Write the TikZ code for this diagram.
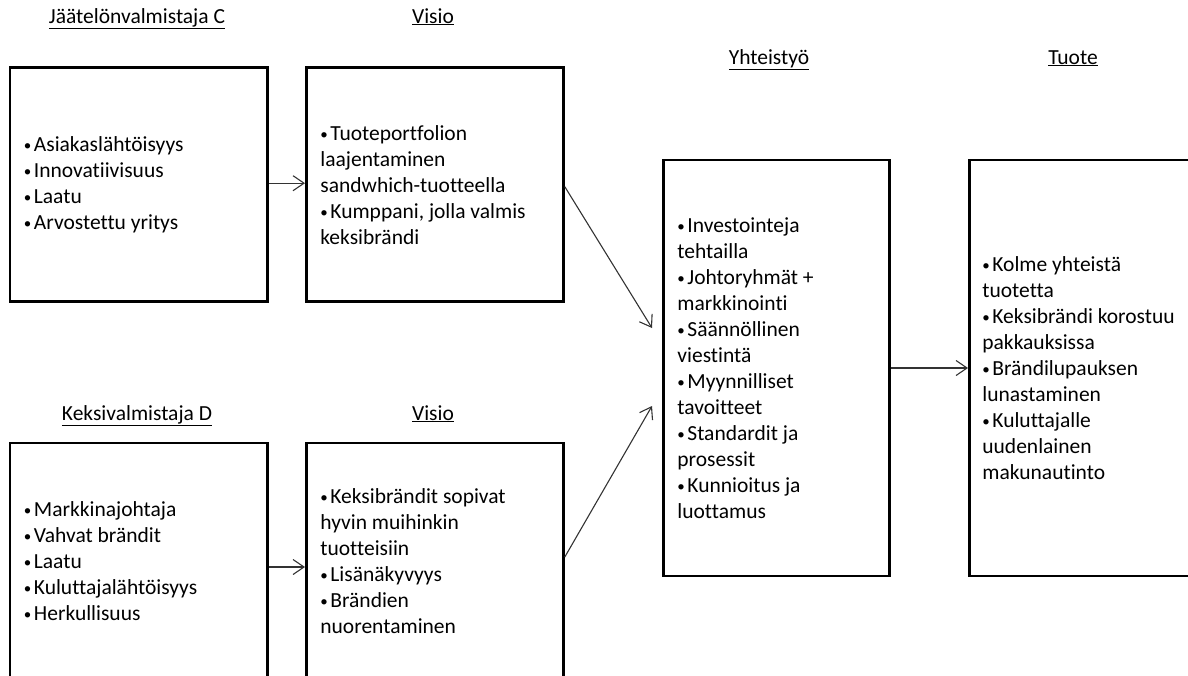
\documentclass[tikz,border=0pt]{standalone}
\usepackage{fontspec}
\setmainfont[Ligatures=NoCommon]{Carlito}
\usetikzlibrary{arrows.meta}
% small bullet set in a fixed-width box so the item text starts right after it
\newcommand\itm{\makebox[10pt][l]{\raisebox{0.8pt}{\fontsize{15}{15}\selectfont •}}}
% use the font's own interword space instead of the wider ragged-right one
\newcommand\natsp{\spaceskip=0pt\xspaceskip=0pt\relax}
\begin{document}
\begin{tikzpicture}[x=1pt,y=-1pt,
  box/.style={draw, line width=2.8pt, anchor=west, inner xsep=14pt, inner ysep=0pt,
    align=left, font=\fontsize{21.5}{26}\selectfont},
  title/.style={anchor=base, inner sep=0pt, font=\fontsize{21.5}{26}\selectfont},
  link/.style={draw=black!80, line width=1.1pt, -{Straight Barb[length=11pt,width=15pt]}}]
\useasboundingbox (0,0) rectangle (1188,675);
\clip (0,0) rectangle (1188,675);

% column titles
\node[title] (t1) at (137,23)  {\underline{Jäätelönvalmistaja C}};
\node[title] (t2) at (433,23)  {\underline{Visio}};
\node[title] (t3) at (137,420) {\underline{Keksivalmistaja D}};
\node[title] (t4) at (433,420) {\underline{Visio}};
\node[title] (t5) at (769,64)  {\underline{Yhteistyö}};
\node[title] (t6) at (1073,64) {\underline{Tuote}};

% partner boxes
\node[box, minimum width=257.5pt, text width=229.5pt, minimum height=234pt] (b1) at (8.5,184.7)
  {\natsp\itm Asiakaslähtöisyys\\\itm Innovatiivisuus\\\itm Laatu\\\itm Arvostettu yritys};
\node[box, minimum width=257pt, text width=229pt, minimum height=234pt] (b2) at (305,184.7)
  {\natsp\itm Tuoteportfolion\\laajentaminen\\sandwhich-tuotteella\\\itm Kumppani, jolla valmis\\keksibrändi};
\node[box, minimum width=257.5pt, text width=229.5pt, minimum height=236pt] (b3) at (8.5,561)
  {\natsp\itm Markkinajohtaja\\\itm Vahvat brändit\\\itm Laatu\\\itm Kuluttajalähtöisyys\\\itm Herkullisuus};
\node[box, minimum width=257pt, text width=229pt, minimum height=236pt] (b4) at (305,561)
  {\natsp\itm Keksibrändit sopivat\\hyvin muihinkin\\tuotteisiin\\\itm Lisänäkyvyys\\\itm Brändien\\nuorentaminen};

% cooperation and product boxes
\node[box, minimum width=226pt, text width=198pt, minimum height=416pt] (b5) at (662,368)
  {\natsp\itm Investointeja\\tehtailla\\\itm Johtoryhmät +\\markkinointi\\\itm Säännöllinen\\viestintä\\\itm Myynnilliset\\tavoitteet\\\itm Standardit ja\\prosessit\\\itm Kunnioitus ja\\luottamus};
\node[box, inner xsep=13pt, minimum width=226pt, text width=215pt, minimum height=416pt] (b6) at (968,368)
  {\natsp\itm Kolme yhteistä\\tuotetta\\\itm Keksibrändi korostuu\\pakkauksissa\\\itm Brändilupauksen\\lunastaminen\\\itm Kuluttajalle\\uudenlainen\\makunautinto};

% connectors
\draw[link] ([shift={(0,-1.5)}]b1.east) -- ([shift={(0,-1.5)}]b2.west);
\draw[link] ([shift={(0,6)}]b3.east) -- ([shift={(0,6)}]b4.west);
\draw[link] ([shift={(0,2)}]b2.east) -- ([shift={(-10,-40)}]b5.west);
\draw[link] ([shift={(0,-4)}]b4.east) -- ([shift={(-10,38)}]b5.west);
\draw[link] (b5.east) -- (b6.west);
\end{tikzpicture}
\end{document}
